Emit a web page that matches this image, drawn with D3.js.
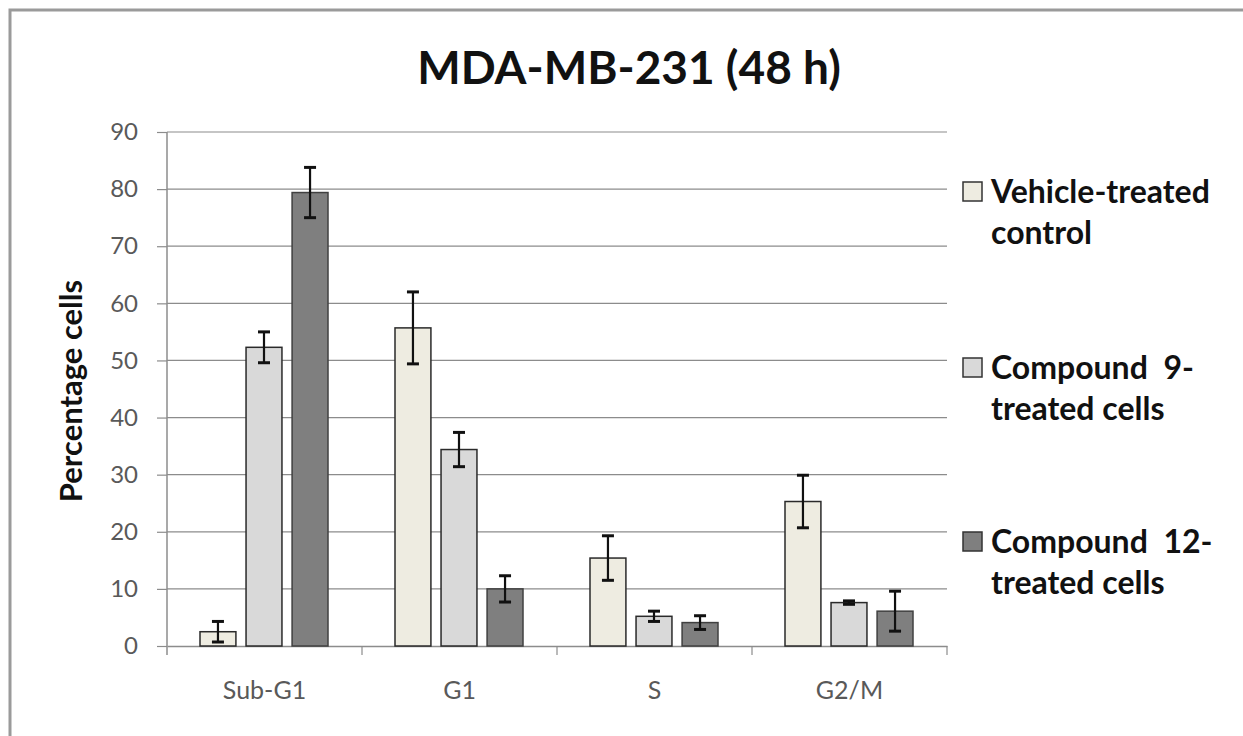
<!DOCTYPE html>
<html>
<head>
<meta charset="utf-8">
<script src="https://cdn.jsdelivr.net/npm/d3@7"></script>
<style>
  body { margin: 0; background: #fff; }
  svg { display: block; font-family: Lato, "Open Sans", sans-serif; }
</style>
</head>
<body>
<svg id="chart" width="1243" height="736"></svg>
<script>
// cell-cycle phases and treatment groups
var phases = ["Sub-G1", "G1", "S", "G2/M"];
var groups = ["vehicle", "cpd9", "cpd12"];
var groupLabels = [["Vehicle-treated", "control"], ["Compound  9-", "treated cells"], ["Compound  12-", "treated cells"]];
var groupColors = ["#eeece1", "#d9d9d9", "#7f7f7f"];

// percentage of cells, one array per group in phase order
var vehicle = [2.5, 55.7, 15.4, 25.3];
var cpd9 = [52.3, 34.4, 5.2, 7.6];
var cpd12 = [79.4, 10.0, 4.1, 6.1];

// standard deviations
var vehicleErr = [1.8, 6.3, 3.9, 4.6];
var cpd9Err = [2.7, 3.0, 0.9, 0.3];
var cpd12Err = [4.4, 2.3, 1.2, 3.5];

var yTicks = [0, 10, 20, 30, 40, 50, 60, 70, 80, 90];

var svg = d3.select("#chart");

// outer chart frame (right and bottom run off the picture)
svg.append("rect")
    .attr("x", 10).attr("y", 10)
    .attr("width", 1260).attr("height", 760)
    .attr("fill", "none")
    .attr("stroke", "#9a9a9a")
    .attr("stroke-width", 3);

var plotL = 167, plotR = 947, plotT = 132, plotB = 646;

var x0 = d3.scaleBand().domain(phases).range([plotL, plotR]);
var x1 = d3.scaleBand().domain(groups).range([33, 161]).paddingInner(0.22);
var y = d3.scaleLinear().domain([0, 90]).range([plotB, plotT]);

// gridlines
svg.append("g")
    .selectAll("line")
    .data(yTicks.slice(1))
    .enter().append("line")
    .attr("x1", plotL).attr("x2", plotR)
    .attr("y1", function(d) { return y(d); })
    .attr("y2", function(d) { return y(d); })
    .attr("stroke", "#8c8c8c")
    .attr("stroke-width", 1.2);

// y axis
var yAxis = svg.append("g")
    .attr("transform", "translate(" + plotL + ",0)")
    .call(d3.axisLeft(y).tickValues(yTicks).tickSize(10).tickPadding(19));
yAxis.select(".domain").attr("stroke", "#8c8c8c").attr("stroke-width", 1.5)
    .attr("d", "M0," + plotT + "V" + (plotB + 9));
yAxis.selectAll(".tick line").attr("stroke", "#8c8c8c").attr("stroke-width", 1.2);
yAxis.selectAll(".tick text")
    .attr("fill", "#595959")
    .style("font-size", "24px")
    .style("font-family", "Lato, sans-serif");

// x axis
var xAxis = svg.append("g")
    .attr("transform", "translate(0," + plotB + ")")
    .call(d3.axisBottom(x0).tickSize(0).tickPadding(35));
xAxis.select(".domain").attr("stroke", "#8c8c8c").attr("stroke-width", 1.5);
xAxis.selectAll(".tick text")
    .attr("fill", "#595959")
    .style("font-size", "25px")
    .style("font-family", "Lato, sans-serif");
// category separators
xAxis.selectAll(".sep")
    .data(phases)
    .enter().append("line")
    .attr("class", "sep")
    .attr("x1", function(d) { return x0(d) + x0.bandwidth(); })
    .attr("x2", function(d) { return x0(d) + x0.bandwidth(); })
    .attr("y1", 0).attr("y2", 9)
    .attr("stroke", "#8c8c8c")
    .attr("stroke-width", 1.2);

// build rows for the bars
var values = [vehicle, cpd9, cpd12];
var errs = [vehicleErr, cpd9Err, cpd12Err];
var rows = [];
phases.forEach(function(p, i) {
    groups.forEach(function(g, j) {
        rows.push({ phase: p, group: g, gi: j, value: values[j][i], err: errs[j][i] });
    });
});

var bars = svg.append("g");
bars.selectAll("rect")
    .data(rows)
    .enter().append("rect")
    .attr("x", function(d) { return x0(d.phase) + x1(d.group); })
    .attr("y", function(d) { return y(d.value); })
    .attr("width", x1.bandwidth())
    .attr("height", function(d) { return y(0) - y(d.value); })
    .attr("fill", function(d) { return groupColors[d.gi]; })
    .attr("stroke", function(d) { return d.gi == 2 ? "#404040" : "#2a2a2a"; })
    .attr("stroke-width", 1.5);

// error bars
var eb = svg.append("g").attr("stroke", "#111").attr("stroke-width", 2.2);
rows.forEach(function(d) {
    var cx = x0(d.phase) + x1(d.group) + x1.bandwidth() / 2;
    var yt = y(d.value + d.err), yb = y(Math.max(0, d.value - d.err));
    eb.append("line").attr("x1", cx).attr("x2", cx).attr("y1", yt).attr("y2", yb);
    eb.append("line").attr("x1", cx - 6).attr("x2", cx + 6).attr("y1", yt).attr("y2", yt).attr("stroke-width", 3);
    eb.append("line").attr("x1", cx - 6).attr("x2", cx + 6).attr("y1", yb).attr("y2", yb).attr("stroke-width", 3);
});

// title
svg.append("text")
    .attr("x", 629).attr("y", 84)
    .attr("text-anchor", "middle")
    .style("font-size", "46px")
    .style("font-weight", "bold")
    .attr("fill", "#111")
    .text("MDA-MB-231 (48 h)");

// y axis title
svg.append("text")
    .attr("transform", "translate(82,391) rotate(-90)")
    .attr("text-anchor", "middle")
    .style("font-size", "31px")
    .style("font-weight", "bold")
    .attr("fill", "#111")
    .text("Percentage cells");

// legend
var legY = [182, 358, 532];
var leg = svg.append("g");
groups.forEach(function(g, i) {
    leg.append("rect")
        .attr("x", 963).attr("y", legY[i])
        .attr("width", 19).attr("height", 19)
        .attr("fill", groupColors[i])
        .attr("stroke", "#333")
        .attr("stroke-width", 1.5);
    groupLabels[i].forEach(function(t, k) {
        leg.append("text")
            .attr("x", 991)
            .attr("y", legY[i] + 21 + k * 41)
            .style("font-size", "32px")
            .style("font-weight", "bold")
            .style("white-space", "pre")
            .attr("fill", "#111")
            .text(t);
    });
});
</script>
</body>
</html>
